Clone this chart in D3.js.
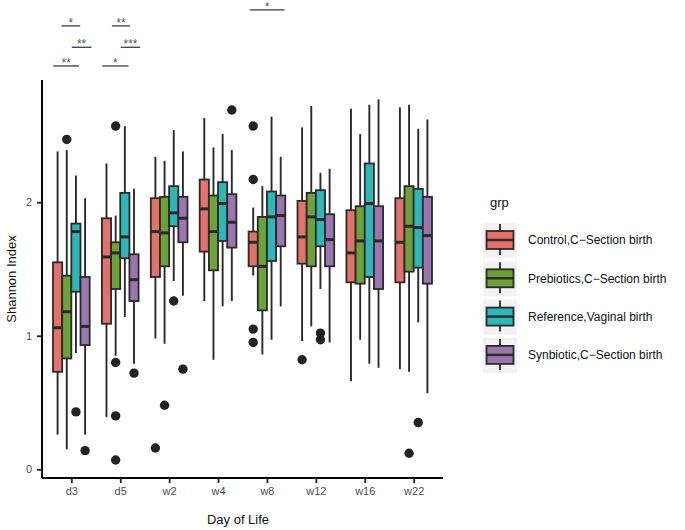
<!DOCTYPE html>
<html>
<head>
<meta charset="utf-8">
<script src="https://cdn.jsdelivr.net/npm/d3@7"></script>
<style>
  html, body { margin: 0; padding: 0; background: #ffffff; }
  svg { display: block; font-family: "Liberation Sans", Arial, Helvetica, sans-serif; }
</style>
</head>
<body>
<svg id="chart" width="685" height="530"></svg>
<script>
// ---------------- DATA ----------------
const days = ["d3", "d5", "w2", "w4", "w8", "w12", "w16", "w22"];
const groups = ["Control,C\u2212Section birth", "Prebiotics,C\u2212Section birth", "Reference,Vaginal birth", "Synbiotic,C\u2212Section birth"];
const groupColors = ["#E4716A", "#6DA23A", "#2DB7B9", "#9B75AE"];

// per day: [lower whisker, Q1, median, Q3, upper whisker]
const controlStats = [
  [0.26, 0.73, 1.06, 1.55, 2.38],
  [0.39, 1.09, 1.59, 1.88, 2.29],
  [0.98, 1.44, 1.78, 2.03, 2.34],
  [1.26, 1.63, 1.95, 2.17, 2.63],
  [1.45, 1.52, 1.70, 1.78, 1.96],
  [0.96, 1.54, 1.74, 2.01, 2.56],
  [0.66, 1.40, 1.62, 1.94, 2.70],
  [0.75, 1.40, 1.70, 2.03, 2.71]
];
const prebioticsStats = [
  [0.15, 0.83, 1.18, 1.45, 2.39],
  [0.85, 1.35, 1.62, 1.70, 1.90],
  [0.94, 1.52, 1.77, 2.04, 2.31],
  [0.82, 1.49, 1.78, 2.05, 2.41],
  [0.86, 1.19, 1.52, 1.89, 2.12],
  [1.07, 1.52, 1.89, 2.07, 2.72],
  [0.97, 1.39, 1.71, 1.97, 2.51],
  [0.73, 1.48, 1.82, 2.12, 2.73]
];
const referenceStats = [
  [0.87, 1.33, 1.78, 1.84, 2.20],
  [1.14, 1.58, 1.74, 2.07, 2.57],
  [1.41, 1.82, 1.92, 2.12, 2.54],
  [1.22, 1.71, 1.99, 2.15, 2.51],
  [0.97, 1.56, 1.89, 2.08, 2.64],
  [1.35, 1.67, 1.87, 2.09, 2.22],
  [0.79, 1.44, 1.99, 2.29, 2.73],
  [1.10, 1.51, 1.81, 2.10, 2.55]
];
const synbioticStats = [
  [0.26, 0.93, 1.07, 1.44, 2.03],
  [0.79, 1.26, 1.42, 1.61, 2.10],
  [1.30, 1.70, 1.88, 2.04, 2.38],
  [1.26, 1.66, 1.85, 2.06, 2.39],
  [1.22, 1.67, 1.90, 2.05, 2.34],
  [0.95, 1.52, 1.72, 1.91, 2.25],
  [0.76, 1.35, 1.71, 1.97, 2.77],
  [0.57, 1.39, 1.75, 2.04, 2.62]
];

// outliers: [day index, value]
const controlOutliers = [[2, 0.16], [4, 2.57], [4, 2.17], [4, 1.05], [4, 0.95], [5, 0.82]];
const prebioticsOutliers = [[0, 2.47], [1, 2.57], [1, 0.80], [1, 0.40], [1, 0.07], [2, 0.48], [7, 0.12]];
const referenceOutliers = [[0, 0.43], [2, 1.26], [5, 1.02], [5, 0.97], [7, 0.35]];
const synbioticOutliers = [[0, 0.14], [1, 0.72], [2, 0.75], [3, 2.69]];

// significance bars: day index, x offsets (category units), y (Shannon units), label
const sigDay = [0, 0, 0, 1, 1, 1, 4];
const sigX1 = [-0.20, 0.01, -0.37, -0.17, 0.01, -0.37, -0.35];
const sigX2 = [0.18, 0.41, 0.16, 0.20, 0.41, 0.17, 0.36];
const sigY = [3.32, 3.16, 3.02, 3.32, 3.16, 3.02, 3.44];
const sigLabel = ["*", "**", "**", "**", "***", "*", "*"];

const yTicks = [0, 1, 2];

// ---------------- CHART ----------------
const statsAll = [controlStats, prebioticsStats, referenceStats, synbioticStats];
const outAll = [controlOutliers, prebioticsOutliers, referenceOutliers, synbioticOutliers];

const svg = d3.select("#chart");
const pLeft = 42, pRight = 443, pTop = 82, pBottom = 478;

const x = d3.scaleLinear().domain([-0.6, days.length - 1 + 0.6]).range([pLeft, pRight]);
const y = d3.scaleLinear().domain([-0.065, 2.9]).range([pBottom, pTop]);

const dodge = 0.75 / groups.length;
const boxW = x(dodge) - x(0);
const lineCol = "#2a2a2a";

const plot = svg.append("g");

statsAll.forEach((stats, g) => {
  const off = (g - (groups.length - 1) / 2) * dodge;
  const gg = plot.append("g");
  stats.forEach((s, i) => {
    const cx = x(i + off);
    gg.append("line").attr("x1", cx).attr("x2", cx).attr("y1", y(s[4])).attr("y2", y(s[3]))
      .attr("stroke", lineCol).attr("stroke-width", 1.9);
    gg.append("line").attr("x1", cx).attr("x2", cx).attr("y1", y(s[1])).attr("y2", y(s[0]))
      .attr("stroke", lineCol).attr("stroke-width", 1.9);
    gg.append("rect").attr("x", cx - boxW / 2).attr("width", boxW)
      .attr("y", y(s[3])).attr("height", y(s[1]) - y(s[3]))
      .attr("fill", groupColors[g]).attr("stroke", lineCol).attr("stroke-width", 1.8);
    gg.append("line").attr("x1", cx - boxW / 2).attr("x2", cx + boxW / 2)
      .attr("y1", y(s[2])).attr("y2", y(s[2]))
      .attr("stroke", lineCol).attr("stroke-width", 3);
  });
  outAll[g].forEach(o => {
    gg.append("circle").attr("cx", x(o[0] + off)).attr("cy", y(o[1])).attr("r", 4.7)
      .attr("fill", "#222222");
  });
});

// axes
const xAxis = d3.axisBottom(x).tickValues(days.map((d, i) => i)).tickFormat(i => days[i])
  .tickSize(5).tickPadding(4);
const gx = svg.append("g").attr("transform", `translate(0,${pBottom})`).call(xAxis);
gx.select(".domain").attr("d", `M${pLeft},0H${pRight}`).attr("stroke", "#000").attr("stroke-width", 2);
gx.selectAll(".tick line").attr("stroke", "#222").attr("stroke-width", 1.8);
gx.selectAll(".tick text").attr("fill", "#4d4d4d").style("font-size", "11px")
  .style("font-family", "'Liberation Sans', Arial, sans-serif");

const yAxis = d3.axisLeft(y).tickValues(yTicks).tickFormat(d3.format("d")).tickSize(5).tickPadding(5);
const gy = svg.append("g").attr("transform", `translate(${pLeft},0)`).call(yAxis);
gy.select(".domain").attr("d", `M0,${pTop - 2}V${pBottom}`).attr("stroke", "#000").attr("stroke-width", 2);
gy.selectAll(".tick line").attr("stroke", "#222").attr("stroke-width", 1.8);
gy.selectAll(".tick text").attr("fill", "#4d4d4d").style("font-size", "11px")
  .style("font-family", "'Liberation Sans', Arial, sans-serif");

// axis titles
svg.append("text").attr("x", 238).attr("y", 524).attr("text-anchor", "middle")
  .style("font-size", "13px").attr("fill", "#111").text("Day of Life");
svg.append("text").attr("transform", `translate(16,279) rotate(-90)`).attr("text-anchor", "middle")
  .style("font-size", "13px").attr("fill", "#111").text("Shannon Index");

// significance bars
sigDay.forEach((d, k) => {
  const x1 = x(d + sigX1[k]), x2 = x(d + sigX2[k]), yy = y(sigY[k]);
  svg.append("line").attr("x1", x1).attr("x2", x2).attr("y1", yy).attr("y2", yy)
    .attr("stroke", "#3a3a3a").attr("stroke-width", 1.3);
  svg.append("text").attr("x", (x1 + x2) / 2).attr("y", yy + 1).attr("text-anchor", "middle")
    .style("font-size", "12px").attr("fill", "#555").text(sigLabel[k]);
});

// legend
const lg = svg.append("g");
lg.append("text").attr("x", 490).attr("y", 207).style("font-size", "13px").attr("fill", "#111").text("grp");
groups.forEach((name, g) => {
  const ky = 223 + g * 38.3;
  const kx = 483, kw = 34, kh = 35;
  lg.append("rect").attr("x", kx).attr("y", ky).attr("width", kw).attr("height", kh).attr("fill", "#f2f2f2");
  const cx = kx + kw / 2;
  lg.append("line").attr("x1", cx).attr("x2", cx).attr("y1", ky + 1).attr("y2", ky + kh - 3)
    .attr("stroke", lineCol).attr("stroke-width", 1.8);
  lg.append("rect").attr("x", kx + 3.5).attr("y", ky + 8).attr("width", kw - 7).attr("height", 18)
    .attr("fill", groupColors[g]).attr("stroke", lineCol).attr("stroke-width", 1.8);
  lg.append("line").attr("x1", kx + 3.5).attr("x2", kx + kw - 3.5).attr("y1", ky + 17).attr("y2", ky + 17)
    .attr("stroke", lineCol).attr("stroke-width", 2.4);
  lg.append("text").attr("x", 528).attr("y", ky + 17).attr("dy", "0.35em")
    .style("font-size", "12px").attr("fill", "#111").text(name);
});
</script>
</body>
</html>
